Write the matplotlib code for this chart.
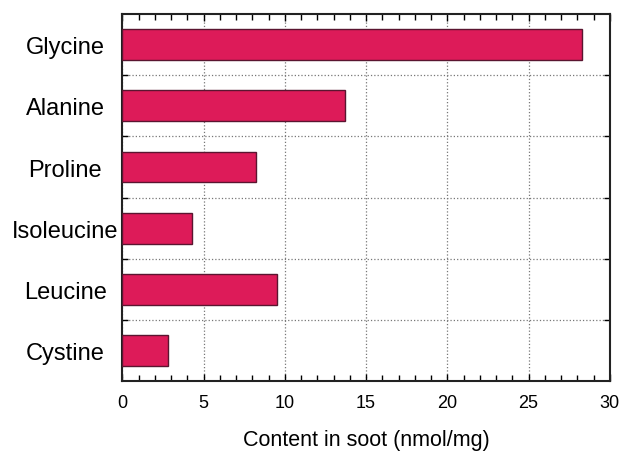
import numpy as np
import matplotlib
matplotlib.use("Agg")
import matplotlib.pyplot as plt
from matplotlib.ticker import MultipleLocator, FixedLocator

# amino acid content
amino_acids = ["Glycine", "Alanine", "Proline", "Isoleucine", "Leucine", "Cystine"]
content = [28.3, 13.7, 8.2, 4.3, 9.5, 2.8]
x_ticks = [0, 5, 10, 15, 20, 25, 30]

plt.rcParams['font.family'] = ['Liberation Sans', 'DejaVu Sans']

fig = plt.figure(figsize=(6.21, 4.52), dpi=100)
ax = fig.add_axes([0.197, 0.154, 0.785, 0.813])

ypos = np.arange(len(amino_acids))
ax.barh(ypos, content, height=0.5, color='#dd1b59', edgecolor='#5a1530',
        linewidth=1.0, zorder=3)

ax.set_xlim(0, 30)
ax.set_ylim(len(amino_acids) - 0.5, -0.5)

# x axis ticks
ax.xaxis.set_major_locator(FixedLocator(x_ticks))
ax.xaxis.set_minor_locator(MultipleLocator(1))
ax.tick_params(axis='x', which='both', direction='in', top=True, bottom=True)
ax.tick_params(axis='x', which='major', length=5, width=1, labelsize=13, pad=9)
ax.tick_params(axis='x', which='minor', length=4, width=1)

# y axis: labels at bar centres, grid at slot boundaries
ax.set_yticks(ypos)
ax.set_yticklabels(amino_acids)
ax.yaxis.set_minor_locator(FixedLocator(np.arange(0.5, len(amino_acids) - 0.5, 1)))
ax.tick_params(axis='y', which='major', length=0, labelsize=17, pad=41)
ax.tick_params(axis='y', which='minor', direction='in', length=4, width=1,
               left=True, right=True)
for lbl in ax.get_yticklabels():
    lbl.set_horizontalalignment('center')

ax.grid(True, axis='x', which='major', linestyle=':', color='#777777', linewidth=0.9, zorder=0)
ax.grid(True, axis='y', which='minor', linestyle=':', color='#777777', linewidth=0.9, zorder=0)
ax.grid(False, axis='y', which='major')
ax.set_axisbelow(True)

for s in ax.spines.values():
    s.set_linewidth(1.5)
    s.set_color('#222222')

ax.set_xlabel('Content in soot (nmol/mg)', fontsize=15.5, labelpad=13)

fig.savefig('out.png', dpi=100)
